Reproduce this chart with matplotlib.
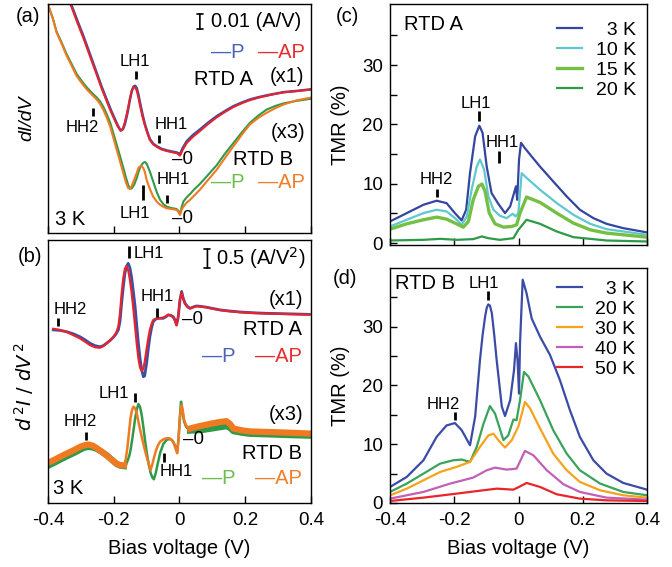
import numpy as np
import matplotlib
matplotlib.use('Agg')
import matplotlib.pyplot as plt

plt.rcParams['font.family'] = ['Liberation Sans', 'DejaVu Sans']
plt.rcParams['axes.unicode_minus'] = False

# ---------- (a) dI/dV at 3 K, arb. units (% of panel height) ----------
a_v_A = [-0.36, -0.328, -0.31, -0.2925, -0.272, -0.252, -0.237, -0.2215, -0.208, -0.196,
         -0.187, -0.179, -0.172, -0.166, -0.158, -0.151, -0.145, -0.140, -0.135, -0.130,
         -0.125, -0.120, -0.112, -0.105, -0.097, -0.090, -0.080, -0.069, -0.055, -0.039,
         -0.020, -0.009, -0.003, 0.0015, 0.005, 0.0096, 0.022, 0.040, 0.062, 0.087,
         0.113, 0.140, 0.164, 0.190, 0.214, 0.240, 0.265, 0.290, 0.316, 0.360, 0.399]
a_P_A = [111, 99.3, 92.5, 86.1, 78, 70.0, 64, 58.3, 53.5, 49.6,
         46.8, 44.7, 45.3, 47.5, 52.5, 58.0, 62.0, 63.9, 64.3, 63.3,
         60.5, 56.9, 51.5, 47.5, 43.8, 41.0, 39.0, 37.9, 36.8, 36.1,
         35.5, 35.2, 34.8, 34.2, 35.5, 37.1, 40.1, 42.7, 45.2, 48.2,
         51.0, 53.4, 55.4, 57.0, 58.3, 59.3, 60.1, 60.8, 61.5, 62.1, 62.7]
a_AP_A = [110, 98.5, 91.6, 85.2, 77.1, 69.2, 63.2, 57.6, 52.8, 49.0,
          46.3, 44.8, 45.6, 48.5, 53.5, 58.6, 62.3, 63.6, 63.5, 62.2,
          59.2, 55.6, 50.5, 46.8, 43.3, 40.6, 38.7, 37.6, 36.5, 35.8,
          35.2, 34.9, 34.4, 33.8, 34.8, 36.3, 39.3, 41.9, 44.5, 47.6,
          50.5, 53.0, 55.0, 56.7, 58.0, 59.1, 59.9, 60.7, 61.4, 62.0, 62.7]

a_v_B = [-0.399, -0.385, -0.374, -0.358, -0.343, -0.328, -0.313, -0.297, -0.282, -0.267,
         -0.252, -0.242, -0.232, -0.221, -0.211, -0.201, -0.191, -0.181, -0.171, -0.163,
         -0.156, -0.151, -0.146, -0.138, -0.130, -0.125, -0.120, -0.115, -0.110, -0.105,
         -0.100, -0.090, -0.080, -0.069, -0.059, -0.049, -0.039, -0.024, -0.009, -0.003,
         0.0015, 0.006, 0.012, 0.022, 0.032, 0.047, 0.062, 0.087, 0.113, 0.138,
         0.164, 0.190, 0.214, 0.240, 0.265, 0.290, 0.316, 0.356, 0.399]
a_AP_B = [99.3, 93.5, 87.6, 82.5, 77.3, 73.0, 68.6, 65.4, 62.7, 60.5,
          58.3, 56.5, 53.9, 50.3, 46.6, 41.5, 36.4, 31.3, 26.2, 22.1,
          19.6, 19.3, 20.3, 23.2, 26.2, 28.4, 29.1, 29.1, 28.4, 26.5,
          23.2, 19.2, 15.9, 13.7, 12.3, 11.5, 10.8, 10.5, 10.1, 9.2,
          7.9, 10.1, 11.5, 13.3, 14.5, 16.7, 18.9, 23.2, 27.6, 32.7,
          37.9, 43.0, 47.4, 50.3, 52.5, 54.4, 56.1, 57.9, 59.1]
a_P_B = [99.3, 93.7, 88.0, 83.0, 78.0, 73.8, 69.5, 66.3, 63.6, 61.3,
         59.2, 57.6, 55.2, 51.8, 48.3, 43.5, 38.6, 33.6, 28.6, 24.3,
         21.0, 19.4, 19.4, 21.0, 24.0, 26.5, 28.5, 29.8, 30.7, 31.0,
         30.3, 26.8, 22.5, 17.8, 14.5, 12.6, 11.5, 10.9, 10.5, 9.6,
         8.2, 11.0, 13.8, 15.6, 17.0, 19.4, 21.4, 25.4, 29.6, 34.6,
         39.3, 44.0, 48.1, 51.3, 53.9, 55.4, 56.6, 57.7, 58.6]

# ---------- (b) d2I/dV2 at 3 K, arb. units ----------
b_v_A = [-0.384, -0.364, -0.343, -0.323, -0.303, -0.287, -0.272, -0.257, -0.242, -0.232,
         -0.222, -0.211, -0.201, -0.193, -0.186, -0.181, -0.176, -0.171, -0.166, -0.161,
         -0.156, -0.151, -0.146, -0.140, -0.135, -0.130, -0.125, -0.120, -0.115, -0.110,
         -0.106, -0.100, -0.095, -0.090, -0.085, -0.080, -0.072, -0.064, -0.056, -0.049,
         -0.041, -0.034, -0.026, -0.019, -0.013, -0.009, -0.004, 0.0015, 0.0066, 0.011,
         0.017, 0.025, 0.032, 0.042, 0.052, 0.067, 0.083, 0.103, 0.123, 0.150,
         0.184, 0.225, 0.265, 0.330, 0.395]
b_P_A = [65.8, 65.6, 65.1, 64.3, 63.2, 62.0, 60.7, 59.8, 59.4, 59.8,
         60.7, 61.8, 63.0, 64.2, 65.8, 69.0, 75.9, 82.0, 87.3, 90.0,
         91.1, 89.5, 86.1, 80.0, 74.7, 67.5, 60.7, 55.0, 50.6, 48.0,
         48.3, 53.1, 58.5, 63.2, 66.5, 68.9, 69.9, 70.2, 70.2, 70.2,
         70.8, 71.5, 71.3, 70.8, 69.5, 67.7, 70.5, 77.2, 80.4, 78.0,
         75.9, 74.6, 74.0, 74.5, 74.9, 74.7, 74.4, 73.9, 73.4, 73.0,
         72.6, 72.3, 72.1, 71.9, 71.7]
b_AP_A = [66.2, 65.8, 65.0, 63.8, 62.6, 61.3, 60.0, 59.2, 59.0, 59.6,
          60.6, 61.8, 63.2, 64.6, 67.0, 72.0, 79.5, 85.5, 89.0, 90.0,
          88.5, 85.0, 80.5, 73.5, 67.0, 60.5, 55.0, 51.5, 50.2, 51.0,
          53.5, 58.5, 62.5, 65.8, 68.0, 69.5, 70.0, 70.2, 70.3, 70.5,
          71.0, 71.5, 71.2, 70.5, 69.0, 67.5, 71.0, 77.5, 80.0, 77.6,
          75.6, 74.4, 73.9, 74.4, 74.8, 74.6, 74.3, 73.8, 73.3, 72.9,
          72.5, 72.2, 72.0, 71.8, 71.6]

b_v_B = [-0.394, -0.379, -0.364, -0.348, -0.333, -0.318, -0.303, -0.290, -0.277, -0.264,
         -0.252, -0.237, -0.222, -0.206, -0.191, -0.180, -0.169, -0.163, -0.158, -0.153,
         -0.149, -0.144, -0.140, -0.135, -0.130, -0.125, -0.120, -0.115, -0.110, -0.105,
         -0.100, -0.094, -0.088, -0.083, -0.078, -0.072, -0.066, -0.059, -0.049, -0.039,
         -0.031, -0.024, -0.018, -0.014, -0.010, -0.007, -0.003, 0.0015, 0.0046, 0.0066,
         0.010, 0.014, 0.020, 0.032, 0.050, 0.072, 0.098, 0.123, 0.143, 0.154,
         0.164, 0.190, 0.214, 0.265, 0.336, 0.395]
b_AP_B = [15.1, 16.0, 17.0, 18.0, 18.9, 19.8, 20.8, 21.4, 21.7, 21.3,
          20.4, 19.0, 17.6, 15.9, 14.4, 13.9, 13.8, 17.0, 21.5, 27.5,
          32.2, 35.5, 36.6, 36.0, 34.1, 31.0, 28.0, 25.2, 22.5, 20.0,
          17.6, 15.0, 12.5, 14.5, 17.0, 19.8, 21.8, 23.3, 24.2, 24.6,
          24.6, 24.0, 23.0, 21.4, 20.0, 18.9, 24.0, 32.8, 36.0, 37.3,
          35.0, 31.6, 29.5, 27.8, 28.4, 29.0, 29.7, 30.3, 30.6, 29.5,
          27.8, 27.1, 26.7, 26.5, 26.2, 25.9]
b_P_B = [14.5, 15.4, 16.4, 17.4, 18.3, 19.2, 20.2, 21.0, 21.3, 21.1,
         20.6, 19.5, 18.2, 16.5, 14.8, 14.2, 14.0, 14.6, 16.0, 17.8,
         20.0, 24.0, 27.5, 32.0, 35.5, 37.6, 36.5, 33.5, 29.0, 24.0,
         19.5, 15.0, 11.5, 9.8, 9.0, 11.5, 15.0, 19.0, 22.5, 24.0,
         24.3, 24.0, 23.0, 21.8, 20.5, 19.5, 24.5, 33.0, 38.5, 37.0,
         34.0, 31.0, 29.0, 27.5, 27.6, 27.8, 28.3, 28.8, 29.2, 28.5,
         27.3, 26.7, 26.3, 26.1, 25.8, 25.6]

# ---------- (c) TMR, RTD A ----------
c_v_3K = [-0.400, -0.348, -0.296, -0.255, -0.224, -0.198, -0.177, -0.163, -0.151, -0.135,
          -0.122, -0.112, -0.099, -0.084, -0.063, -0.042, -0.026, -0.014, -0.008, -0.004,
          0.0016, 0.0078, 0.020, 0.041, 0.067, 0.108, 0.150, 0.191, 0.233, 0.274,
          0.326, 0.401]
c_tmr_3K = [3.66, 5.06, 6.47, 7.15, 6.75, 5.06, 3.83, 5.63, 11.8, 18.0,
            19.8, 18.6, 12.9, 8.44, 6.64, 5.06, 6.19, 8.44, 9.57, 7.3,
            14.1, 16.9, 16.0, 14.6, 12.9, 10.4, 7.88, 5.63, 4.22, 3.26,
            2.53, 1.80]
c_v_10K = [-0.400, -0.348, -0.296, -0.255, -0.224, -0.198, -0.177, -0.161, -0.146, -0.130,
           -0.120, -0.107, -0.094, -0.078, -0.058, -0.037, -0.018, -0.009, -0.0005, 0.0098,
           0.025, 0.067, 0.119, 0.171, 0.223, 0.274, 0.401]
c_tmr_10K = [2.81, 3.94, 5.06, 5.63, 5.35, 4.22, 3.10, 4.50, 9.0, 12.9,
             14.1, 12.4, 7.88, 5.63, 4.61, 4.22, 4.95, 4.50, 5.06, 11.8,
             11.0, 9.0, 6.75, 4.78, 3.26, 2.36, 1.41]
c_v_15K = [-0.400, -0.348, -0.296, -0.255, -0.224, -0.193, -0.172, -0.156, -0.141, -0.125,
           -0.114, -0.104, -0.091, -0.073, -0.047, -0.021, -0.006, 0.0047, 0.025, 0.067,
           0.119, 0.171, 0.223, 0.274, 0.401]
c_tmr_15K = [2.36, 3.26, 3.94, 4.39, 4.05, 3.26, 2.70, 3.66, 7.32, 9.57,
             9.96, 8.72, 5.06, 3.26, 2.70, 2.81, 3.10, 5.06, 7.77, 6.87,
             5.06, 3.38, 2.25, 1.69, 1.01]
c_v_20K = [-0.400, -0.296, -0.244, -0.193, -0.141, -0.114, -0.094, -0.058, -0.016, -0.0005,
           0.025, 0.067, 0.119, 0.171, 0.274, 0.401]
c_tmr_20K = [0.45, 0.56, 0.73, 0.56, 0.68, 1.13, 0.84, 0.56, 0.84, 2.25,
             3.94, 3.26, 1.97, 1.01, 0.45, 0.28]

# ---------- (d) TMR, RTD B ----------
d_v_3K = [-0.400, -0.348, -0.296, -0.255, -0.224, -0.198, -0.177, -0.151, -0.135, -0.120,
          -0.112, -0.104, -0.099, -0.094, -0.089, -0.083, -0.076, -0.068, -0.052, -0.042,
          -0.026, -0.014, -0.008, -0.003, 0.0016, 0.0047, 0.013, 0.025, 0.041, 0.067,
          0.098, 0.129, 0.160, 0.191, 0.233, 0.274, 0.326, 0.400]
d_tmr_3K = [2.73, 4.43, 7.27, 11.25, 13.2, 13.6, 12.4, 9.83, 14.7, 24.3,
            28.5, 31.7, 33.2, 33.8, 33.6, 32.3, 28.8, 24.3, 16.4, 14.8,
            17.5, 22.6, 27.2, 24.3, 18.6, 27.2, 38.0, 35.7, 31.4, 28.3,
            25.2, 20.9, 15.8, 11.25, 7.27, 5.0, 3.41, 2.27]
d_v_20K = [-0.400, -0.348, -0.296, -0.244, -0.203, -0.177, -0.151, -0.130, -0.109, -0.089,
           -0.073, -0.047, -0.032, -0.016, -0.006, 0.0047, 0.017, 0.031, 0.067, 0.108,
           0.150, 0.191, 0.254, 0.326, 0.400]
d_tmr_20K = [1.88, 3.30, 5.0, 6.7, 7.27, 7.39, 6.99, 9.55, 13.5, 16.5,
             15.2, 10.7, 11.5, 14.2, 14.1, 17.5, 22.3, 21.5, 17.5, 12.4,
             8.4, 5.57, 3.30, 1.88, 1.31]
d_v_30K = [-0.400, -0.348, -0.296, -0.244, -0.193, -0.151, -0.120, -0.094, -0.078, -0.063,
           -0.042, -0.021, -0.0005, 0.020, 0.036, 0.067, 0.108, 0.150, 0.191, 0.254,
           0.326, 0.400]
d_tmr_30K = [1.31, 2.44, 3.86, 5.28, 6.14, 6.99, 9.55, 11.5, 11.8, 10.7,
             9.43, 10.7, 13.0, 17.2, 16.1, 12.7, 8.41, 5.57, 3.58, 2.16,
             1.31, 0.91]
d_v_40K = [-0.400, -0.296, -0.213, -0.141, -0.099, -0.073, -0.037, -0.006, 0.020, 0.046,
           0.088, 0.140, 0.191, 0.274, 0.400]
d_tmr_40K = [0.74, 1.88, 3.30, 4.32, 5.57, 6.02, 5.68, 5.85, 8.86, 8.13,
             5.57, 3.18, 1.88, 0.91, 0.57]
d_v_50K = [-0.400, -0.296, -0.193, -0.110, -0.068, -0.016, 0.0016, 0.025, 0.067, 0.119,
           0.191, 0.274, 0.400]
d_tmr_50K = [0.34, 0.91, 1.59, 2.16, 2.44, 2.27, 2.73, 3.41, 2.73, 1.48,
             0.74, 0.45, 0.34]

BLUE, RED = '#3b4ea6', '#e8232b'
GREEN, ORANGE = '#2f9a48', '#f07a22'
TXT_P_A, TXT_AP_A = '#4a63b8', '#e62e2e'
TXT_P_B, TXT_AP_B = '#6abf4b', '#f27d28'

FS_BIG = 14.5   # RTD labels, (x1), 3 K, scale bars
FS_ANN = 12     # LH1 / HH1 / HH2
FS_TICK = 13.5


def style_x(ax, labels):
    ax.set_xlim(-0.4, 0.4)
    ax.set_xticks([-0.4, -0.2, 0, 0.2, 0.4])
    ax.tick_params(axis='x', direction='in', length=5, width=1, labelsize=FS_TICK, pad=6.5)
    if labels:
        ax.set_xticklabels(['-0.4', '-0.2', '0', '0.2', '0.4'])
        ax.set_xlabel('Bias voltage (V)', fontsize=FS_BIG, labelpad=7)
    else:
        ax.set_xticklabels([])
    for s in ax.spines.values():
        s.set_linewidth(1.0)


def mark(ax, x, y0, y1):
    ax.plot([x, x], [y0, y1], color='k', lw=2, solid_capstyle='butt')


def pap(ax, x1, x2, y, c1, c2):
    ax.text(x1, y, '\u2014P', color=c1, fontsize=FS_BIG, ha='right', va='center')
    ax.text(x2, y, '\u2014AP', color=c2, fontsize=FS_BIG, ha='right', va='center')


def zero(ax, x, y):
    ax.text(x, y, '\u20130', fontsize=13.5, ha='left', va='center')


fig = plt.figure(figsize=(6.72, 5.67), dpi=100)
ax_a = fig.add_axes([0.0714, 0.589, 0.3914, 0.404])
ax_b = fig.add_axes([0.0714, 0.1129, 0.3914, 0.464])
ax_c = fig.add_axes([0.5804, 0.568, 0.3824, 0.425])
ax_d = fig.add_axes([0.5804, 0.1129, 0.3824, 0.4145])

# ---- (a)
ax_a.plot(a_v_A, a_P_A, color=BLUE, lw=1.8)
ax_a.plot(a_v_A, a_AP_A, color=RED, lw=1.5)
ax_a.plot(a_v_B, a_P_B, color=GREEN, lw=1.5)
ax_a.plot(a_v_B, a_AP_B, color=ORANGE, lw=1.5)
ax_a.set_ylim(0, 100)
ax_a.set_yticks([])
style_x(ax_a, False)
ax_a.text(-0.135, 75, 'LH1', fontsize=FS_ANN, ha='center', va='center')
mark(ax_a, -0.132, 67.3, 70.8)
ax_a.text(-0.297, 45.9, 'HH2', fontsize=FS_ANN, ha='center', va='center')
mark(ax_a, -0.264, 51, 54.7)
ax_a.text(-0.024, 47.4, 'HH1', fontsize=FS_ANN, ha='center', va='center')
mark(ax_a, -0.061, 39.3, 43)
zero(ax_a, -0.024, 32.3)
ax_a.text(-0.019, 23.2, 'HH1', fontsize=FS_ANN, ha='center', va='center')
mark(ax_a, -0.039, 13, 16.7)
mark(ax_a, -0.112, 14.5, 21)
ax_a.text(-0.135, 8.6, 'LH1', fontsize=FS_ANN, ha='center', va='center')
zero(ax_a, -0.024, 6.4)
ax_a.text(0.133, 67, 'RTD A', fontsize=FS_BIG, ha='center', va='center')
ax_a.text(0.379, 68.5, '(x1)', fontsize=FS_BIG, ha='right', va='center')
ax_a.text(0.382, 44, '(x3)', fontsize=FS_BIG, ha='right', va='center')
ax_a.text(0.346, 32, 'RTD B', fontsize=FS_BIG, ha='right', va='center')
ax_a.text(-0.379, 5.7, '3 K', fontsize=FS_BIG, ha='left', va='center')
pap(ax_a, 0.199, 0.382, 79, TXT_P_A, TXT_AP_A)
pap(ax_a, 0.199, 0.382, 22, TXT_P_B, TXT_AP_B)
ax_a.annotate('', xy=(0.062, 89.0), xytext=(0.062, 95.6),
              arrowprops=dict(arrowstyle='|-|,widthA=0.22,widthB=0.22', lw=1.2, color='k',
                              shrinkA=0, shrinkB=0))
ax_a.text(0.096, 92.5, '0.01 (A/V)', fontsize=FS_BIG, ha='left', va='center')

# ---- (b)
vb = np.array(b_v_B)
noisy = (vb < -0.165) | (vb > 0.03)
ax_b.plot(b_v_A, b_P_A, color=BLUE, lw=2.0)
ax_b.plot(b_v_A, b_AP_A, color=RED, lw=1.6)
ax_b.plot(b_v_B, b_P_B, color=GREEN, lw=1.8)
ax_b.plot(vb, np.where(noisy, b_P_B, np.nan), color=GREEN, lw=4.5)
ax_b.plot(b_v_B, b_AP_B, color=ORANGE, lw=1.8)
ax_b.plot(vb, np.where(noisy, np.array(b_AP_B) + 0.5, np.nan), color=ORANGE, lw=4.5)
ax_b.set_ylim(0, 100)
ax_b.set_yticks([])
style_x(ax_b, True)
ax_b.text(-0.138, 95, 'LH1', fontsize=FS_ANN, ha='left', va='center')
mark(ax_b, -0.155, 93, 97.5)
ax_b.text(-0.069, 78.5, 'HH1', fontsize=FS_ANN, ha='center', va='center')
mark(ax_b, -0.069, 70.8, 74)
ax_b.text(-0.333, 73.4, 'HH2', fontsize=FS_ANN, ha='center', va='center')
mark(ax_b, -0.371, 67.3, 70.2)
zero(ax_b, 0.009, 69.6)
ax_b.text(-0.201, 41.7, 'LH1', fontsize=FS_ANN, ha='center', va='center')
mark(ax_b, -0.135, 38.5, 41.7)
ax_b.text(-0.303, 30.9, 'HH2', fontsize=FS_ANN, ha='center', va='center')
mark(ax_b, -0.284, 24, 27.1)
zero(ax_b, 0.012, 24)
ax_b.text(-0.009, 11.9, 'HH1', fontsize=FS_ANN, ha='center', va='center')
mark(ax_b, -0.047, 15.7, 18.9)
ax_b.text(0.377, 77.2, '(x1)', fontsize=FS_BIG, ha='right', va='center')
ax_b.text(0.377, 33.5, '(x3)', fontsize=FS_BIG, ha='right', va='center')
ax_b.text(0.372, 65.8, 'RTD A', fontsize=FS_BIG, ha='right', va='center')
ax_b.text(0.372, 18.9, 'RTD B', fontsize=FS_BIG, ha='right', va='center')
ax_b.text(-0.384, 5.6, '3 K', fontsize=FS_BIG, ha='left', va='center')
pap(ax_b, 0.169, 0.372, 55.6, TXT_P_A, TXT_AP_A)
pap(ax_b, 0.169, 0.372, 9.4, TXT_P_B, TXT_AP_B)
ax_b.annotate('', xy=(0.085, 89.4), xytext=(0.085, 96.5),
              arrowprops=dict(arrowstyle='|-|,widthA=0.22,widthB=0.22', lw=1.2, color='k',
                              shrinkA=0, shrinkB=0))
ax_b.text(0.110, 93, '0.5 (A/V$^2$)', fontsize=FS_BIG, ha='left', va='center')

# ---- (c)
ax_c.plot(c_v_3K, c_tmr_3K, color='#34469f', lw=1.6, label='  3 K')
ax_c.plot(c_v_10K, c_tmr_10K, color='#5ec8d0', lw=1.6, label='10 K')
ax_c.plot(c_v_15K, c_tmr_15K, color='#74c044', lw=2.4, label='15 K')
ax_c.plot(c_v_20K, c_tmr_20K, color='#2d9a46', lw=1.6, label='20 K')
ax_c.set_ylim(-0.3, 40.3)

# ---- (d)
ax_d.plot(d_v_3K, d_tmr_3K, color='#3a4ca6', lw=1.6, label='  3 K')
ax_d.plot(d_v_20K, d_tmr_20K, color='#3aa35a', lw=1.6, label='20 K')
ax_d.plot(d_v_30K, d_tmr_30K, color='#f7a21b', lw=1.6, label='30 K')
ax_d.plot(d_v_40K, d_tmr_40K, color='#c260b8', lw=1.6, label='40 K')
ax_d.plot(d_v_50K, d_tmr_50K, color='#e8262a', lw=1.6, label='50 K')
ax_d.set_ylim(0, 40)

for ax, ytop in ((ax_c, 0.98), (ax_d, 1.0)):
    style_x(ax, ax is ax_d)
    ax.set_yticks([0, 10, 20, 30])
    ax.set_yticks([5, 15, 25, 35], minor=True)
    ax.tick_params(axis='y', which='both', direction='in', length=5, width=1,
                   labelsize=FS_TICK, pad=5)
    ax.set_ylabel('TMR (%)', fontsize=FS_BIG, labelpad=9)
    ax.legend(loc='upper right', bbox_to_anchor=(1.005, ytop), frameon=False,
              fontsize=14, handlelength=1.3, handletextpad=0.7, labelspacing=0.12,
              borderaxespad=0.25)

ax_c.text(-0.358, 36.9, 'RTD A', fontsize=FS_BIG, ha='left', va='center')
ax_c.text(-0.132, 23.6, 'LH1', fontsize=FS_ANN, ha='center', va='center')
mark(ax_c, -0.122, 20.5, 22.2)
ax_c.text(-0.052, 16.9, 'HH1', fontsize=FS_ANN, ha='center', va='center')
mark(ax_c, -0.061, 13.5, 15.5)
ax_c.text(-0.257, 10.7, 'HH2', fontsize=FS_ANN, ha='center', va='center')
mark(ax_c, -0.255, 7.8, 9.1)

ax_d.text(-0.384, 37.4, 'RTD B', fontsize=FS_BIG, ha='left', va='center')
ax_d.text(-0.107, 37.4, 'LH1', fontsize=FS_ANN, ha='center', va='center')
mark(ax_d, -0.096, 34.5, 36.0)
ax_d.text(-0.234, 16.8, 'HH2', fontsize=FS_ANN, ha='center', va='center')
mark(ax_d, -0.198, 14.2, 15.5)

fig.text(27 / 672, 1 - 118 / 567, 'dI/dV', fontsize=14, style='italic',
         rotation=90, ha='center', va='center')
fig.text(24 / 672, 1 - 387 / 567, '$\\mathit{d}^{\\,2}\\mathit{I}\\ /\\ \\mathit{dV}^{\\,2}$',
         fontsize=14, rotation=90, ha='center', va='center')
for lab, x, y in [('(a)', 28, 16), ('(b)', 30, 256), ('(c)', 347, 17), ('(d)', 345, 278)]:
    fig.text(x / 672, 1 - y / 567, lab, fontsize=FS_BIG, ha='center', va='center')

fig.savefig('out.png', dpi=100)
